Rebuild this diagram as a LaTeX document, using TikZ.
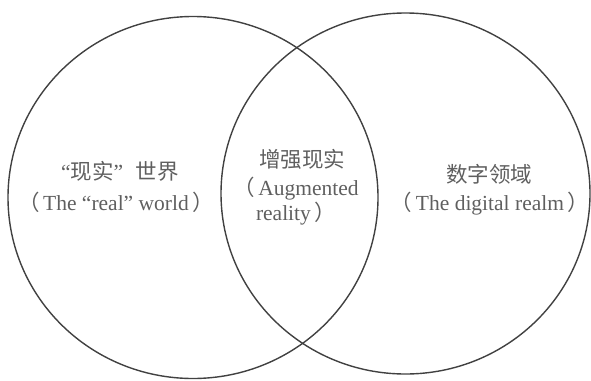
\documentclass[tikz,border=0pt]{standalone}
\usepackage{fontspec}
\setmainfont{Liberation Serif}
\newfontfamily\cjk{Noto Sans CJK SC}
\usetikzlibrary{shapes.geometric}
\definecolor{inkline}{RGB}{65,65,65}
\definecolor{inktext}{RGB}{95,95,95}
\tikzset{
  setcircle/.style={draw=inkline, line width=1.4pt, ellipse, inner sep=0pt},
  lbl/.style={text=inktext, font=\fontsize{21.5}{25}\selectfont, inner sep=0pt, anchor=base}
}
\begin{document}
\begin{tikzpicture}[x=1pt,y=-1pt]
\useasboundingbox (0,0) rectangle (591,380);
\node[setcircle, minimum width=370pt, minimum height=362pt] (real) at (193,197.5) {};
\node[setcircle, minimum width=369pt, minimum height=361pt] (digital) at (405.5,193.5) {};
% left
\node[lbl] (l1) at (120,179) {“{\cjk 现实}”\hspace{0.6em}{\cjk 世界}};
\node[lbl] (l2) at (116,210) {{\cjk （}\,The “real” world\,{\cjk ）}};
% middle
\node[lbl] (m1) at (302,167) {\cjk 增强现实};
\node[lbl] (m2) at (296,195) {{\cjk （}\,Augmented};
\node[lbl] (m3) at (296,220) {reality\,{\cjk ）}};
% right
\node[lbl] (r1) at (489,182) {\cjk 数字领域};
\node[lbl] (r2) at (490,210) {{\cjk （}\,The digital realm\,{\cjk ）}};
\end{tikzpicture}
\end{document}
